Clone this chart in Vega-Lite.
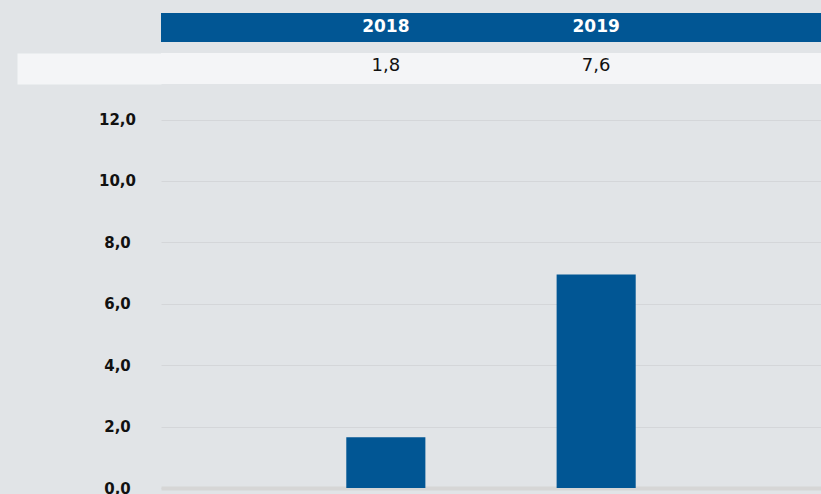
{
  "$schema": "https://vega.github.io/schema/vega-lite/v6.json",
  "background": "#e1e4e7",
  "padding": {"left": 89, "top": 13, "right": 0, "bottom": 0},
  "config": {"view": {"stroke": null}, "font": "DejaVu Sans"},
  "data": {"values": [
    {"year": "2018", "label": "1,8", "value": 1.65, "serie": "A"},
    {"year": "2019", "label": "7,6", "value": 6.95, "serie": "A"}
  ]},
  "spacing": 11,
  "resolve": {"scale": {"x": "independent", "y": "independent"}},
  "vconcat": [
    {
      "width": 660,
      "height": 29,
      "view": {"fill": "#015694", "stroke": null},
      "mark": {"type": "text", "color": "#ffffff", "font": "DejaVu Sans", "fontWeight": "bold", "fontSize": 17, "dy": -1},
      "encoding": {
        "x": {"field": "year", "type": "nominal", "scale": {"type": "band", "paddingInner": 0.624, "paddingOuter": 0.881}, "axis": null},
        "text": {"field": "year"}
      }
    },
    {
      "width": 660,
      "height": 31,
      "view": {"fill": "#f4f5f7", "stroke": null},
      "mark": {"type": "text", "color": "#111111", "font": "DejaVu Sans", "fontSize": 18, "dy": -3},
      "encoding": {
        "x": {"field": "year", "type": "nominal", "scale": {"type": "band", "paddingInner": 0.624, "paddingOuter": 0.881}, "axis": null},
        "y": {"field": "serie", "type": "nominal", "axis": {"labels": false, "ticks": false, "title": null, "grid": false, "domain": true, "domainColor": "#f4f5f7", "domainWidth": 144, "domainCap": "butt", "offset": 72}},
        "text": {"field": "label"}
      }
    },
    {
      "width": 660,
      "height": 393,
      "mark": {"type": "bar", "color": "#015694"},
      "encoding": {
        "x": {"field": "year", "type": "nominal", "scale": {"type": "band", "paddingInner": 0.624, "paddingOuter": 0.881}, "axis": {"labels": false, "ticks": false, "title": null, "grid": false, "domain": true, "domainColor": "#d6d6d6", "domainWidth": 4}},
        "y": {"field": "value", "type": "quantitative", "scale": {"domain": [0, 12.8], "nice": false}, "axis": {"values": [0, 2, 4, 6, 8, 10, 12], "title": null, "domain": false, "ticks": false, "labelFont": "DejaVu Sans", "labelFontWeight": "bold", "labelFontSize": 15, "labelColor": "#111111", "labelAlign": "center", "labelPadding": 44, "labelExpr": "replace(format(datum.value, '.1f'), '.', ',')", "gridColor": "#d4d6d9", "gridWidth": 1}}
      }
    }
  ]
}
